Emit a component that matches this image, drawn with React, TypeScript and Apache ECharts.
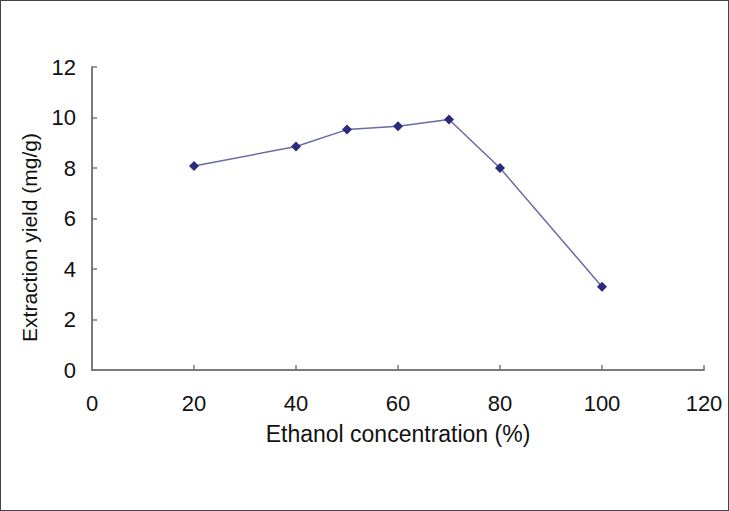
import React, { useEffect, useRef } from "react";
import * as echarts from "echarts";

const concentrations = [20, 40, 50, 60, 70, 80, 100];
const yields = [8.08, 8.85, 9.52, 9.65, 9.92, 8.0, 3.3];
const xTicks = [0, 20, 40, 60, 80, 100, 120];
const yTicks = [0, 2, 4, 6, 8, 10, 12];

export default function App() {
  const ref = useRef<HTMLDivElement>(null);
  useEffect(() => {
    if (!ref.current) return;
    const chart = echarts.init(ref.current, null, { renderer: "svg" });
    const font = "Liberation Sans, Arial, sans-serif";
    chart.setOption({
      animation: false,
      backgroundColor: "#ffffff",
      grid: { left: 91, right: 24, top: 66, bottom: 140, containLabel: false },
      xAxis: {
        type: "value",
        min: xTicks[0],
        max: xTicks[xTicks.length - 1],
        interval: 20,
        name: "Ethanol concentration (%)",
        nameLocation: "middle",
        nameGap: 52,
        nameTextStyle: { color: "#111", fontSize: 23, fontFamily: font },
        axisLine: { show: true, lineStyle: { color: "#7a7a7a", width: 2 } },
        axisTick: { show: true, inside: true, length: 5, lineStyle: { color: "#7a7a7a", width: 1.5 } },
        axisLabel: { color: "#111", fontSize: 22, fontFamily: font, margin: 22 },
        splitLine: { show: false },
      },
      yAxis: {
        type: "value",
        min: yTicks[0],
        max: yTicks[yTicks.length - 1],
        interval: 2,
        name: "Extraction yield (mg/g)",
        nameLocation: "middle",
        nameGap: 52,
        nameTextStyle: { color: "#111", fontSize: 21, fontFamily: font, padding: [0, 38, 0, 0] },
        axisLine: { show: true, lineStyle: { color: "#7a7a7a", width: 2 } },
        axisTick: { show: true, inside: true, length: 5, lineStyle: { color: "#7a7a7a", width: 1.5 } },
        axisLabel: { color: "#111", fontSize: 22, fontFamily: font, margin: 16 },
        splitLine: { show: false },
      },
      series: [
        {
          type: "line",
          data: concentrations.map((c, i) => [c, yields[i]]),
          symbol: "diamond",
          symbolSize: 10,
          lineStyle: { color: "#6a6aa8", width: 1.5 },
          itemStyle: { color: "#2b2b7a" },
        },
      ],
    });
    return () => chart.dispose();
  }, []);
  return (
    <div
      style={{
        position: "absolute",
        left: 0,
        top: 0,
        width: 729,
        height: 511,
        boxSizing: "border-box",
        border: "1px solid #444",
        background: "#fff",
      }}
    >
      <div ref={ref} style={{ width: 727, height: 509 }} />
    </div>
  );
}
